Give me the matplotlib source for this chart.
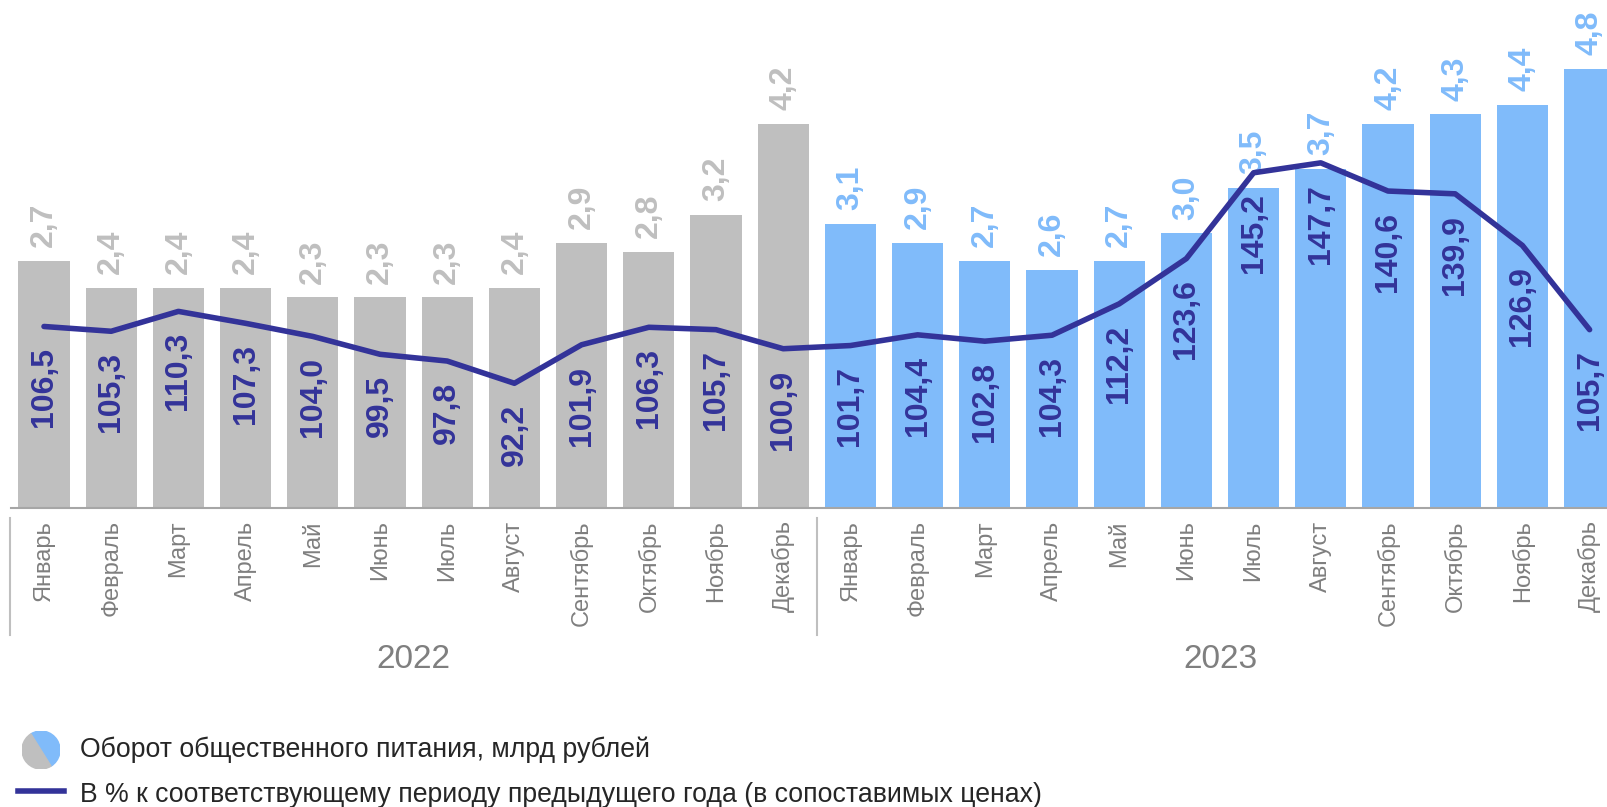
# Оборот общественного питания 2022-2023: bars + line with yearly index
import matplotlib.pyplot as plt
import matplotlib.transforms as mtransforms
from matplotlib.patches import Wedge
from matplotlib.lines import Line2D

plt.rcParams['font.family'] = ['Liberation Sans', 'DejaVu Sans']

# Data
months = ["Январь", "Февраль", "Март", "Апрель", "Май", "Июнь",
          "Июль", "Август", "Сентябрь", "Октябрь", "Ноябрь", "Декабрь"]
years = ["2022", "2023"]
turnover_2022 = [2.7, 2.4, 2.4, 2.4, 2.3, 2.3, 2.3, 2.4, 2.9, 2.8, 3.2, 4.2]
turnover_2023 = [3.1, 2.9, 2.7, 2.6, 2.7, 3.0, 3.5, 3.7, 4.2, 4.3, 4.4, 4.8]
index_2022 = [106.5, 105.3, 110.3, 107.3, 104.0, 99.5, 97.8, 92.2, 101.9, 106.3, 105.7, 100.9]
index_2023 = [101.7, 104.4, 102.8, 104.3, 112.2, 123.6, 145.2, 147.7, 140.6, 139.9, 126.9, 105.7]

legend_bar = "Оборот общественного питания, млрд рублей"
legend_line = "В % к соответствующему периоду предыдущего года (в сопоставимых ценах)"

GREY = "#BFBFBF"
BLUE = "#80BBFA"
LINE = "#333399"
TEXT_GREY = "#7F7F7F"


def fmt(v):
    return f"{v:.1f}".replace(".", ",")


W, H = 1607, 807
fig = plt.figure(figsize=(W / 100, H / 100), dpi=100)

# axes placed so bars line up with the reference (pixel based)
left_px, base_px, first_px, pitch_px = 11, 508, 44, 67.2
ax = fig.add_axes([left_px / W, 1 - base_px / H, 1 - left_px / W, base_px / H])
ax.set_xlim((left_px - first_px) / pitch_px, (W - first_px) / pitch_px)
ax.set_ylim(0, 5.55)

turnover = turnover_2022 + turnover_2023
index = index_2022 + index_2023
labels = months + months
x = list(range(len(turnover)))
colors = [GREY] * len(turnover_2022) + [BLUE] * len(turnover_2023)

ax.bar(x, turnover, width=0.76, color=colors, zorder=1)

for xi, v, c in zip(x, turnover, colors):
    ax.annotate(fmt(v), (xi, v), xytext=(0, 10), textcoords="offset points",
                rotation=90, ha="center", va="bottom", color=c,
                fontsize=23, fontweight="bold")

# line on a secondary axis
ax2 = ax.twinx()
ax2.set_ylim(60.8, 188.7)
ax2.plot(x, index, color=LINE, lw=4, solid_capstyle="round", zorder=3)
for xi, v in zip(x, index):
    ax2.annotate(fmt(v), (xi, v), xytext=(0, -15), textcoords="offset points",
                 rotation=90, ha="center", va="top", color=LINE,
                 fontsize=23, fontweight="bold")

for a in (ax, ax2):
    for s in ("top", "right", "left"):
        a.spines[s].set_visible(False)
    a.set_yticks([])
ax2.spines["bottom"].set_visible(False)
ax.spines["bottom"].set_color("#A6A6A6")
ax.spines["bottom"].set_linewidth(1.5)

ax.set_xticks(x, labels, rotation=90, fontsize=17, color=TEXT_GREY)
ax.tick_params(axis="x", length=0, pad=9)

# year groups
trans = mtransforms.blended_transform_factory(ax.transData, ax.transAxes)
n = len(months)
for k, yr in enumerate(years):
    ax.text(k * n + (n - 1) / 2, -0.299, yr, transform=trans, ha="center",
            va="center", fontsize=24, color=TEXT_GREY)
for xs in [-0.5, n - 0.5, 2 * n - 0.5]:
    ax.plot([xs, xs], [-0.02, -0.25], transform=trans, clip_on=False,
            color=GREY, lw=1.5)

# legend
iax = fig.add_axes([(41 - 19) / W, (H - 750 - 19) / H, 38 / W, 38 / H])
iax.set_xlim(-1, 1)
iax.set_ylim(-1, 1)
iax.axis("off")
iax.add_patch(Wedge((0, 0), 1, -58, 122, color=BLUE))
iax.add_patch(Wedge((0, 0), 1, 122, 302, color=GREY))

fig.add_artist(Line2D([18 / W, 64 / W], [1 - 791 / H] * 2, color=LINE, lw=4))
fig.text(80 / W, 1 - 750 / H, legend_bar, va="center", fontsize=19.2,
         color="#262626")
fig.text(80 / W, 1 - 795 / H, legend_line, va="center", fontsize=19.2,
         color="#262626")

fig.savefig("out.png", dpi=100)
